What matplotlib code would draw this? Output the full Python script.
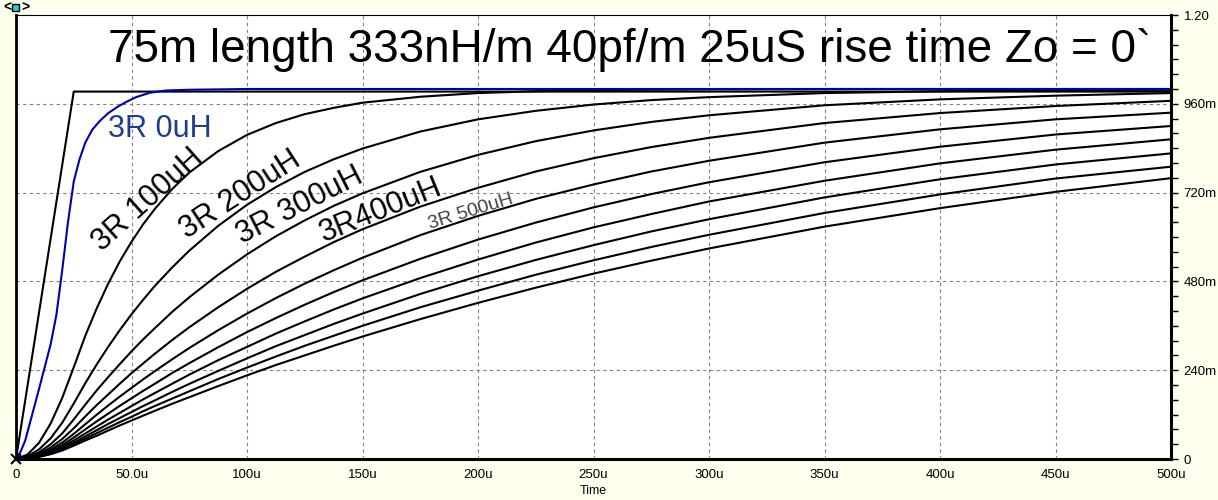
import numpy as np
import matplotlib
matplotlib.use("Agg")
import matplotlib.pyplot as plt
from matplotlib.ticker import MultipleLocator, FixedLocator

plt.rcParams['font.family'] = ['Liberation Sans', 'DejaVu Sans']

# time axis in microseconds, values in volts
t_us = [0, 5, 10, 15, 20, 25, 30, 35, 40, 45, 50, 55, 60, 67.5, 75, 87.5, 100, 112.5, 125, 137.5,
        150, 175, 200, 225, 250, 275, 300, 350, 400, 450, 500]

v_100uH = [0, .012, .044, .096, .165, .248, .333, .408, .475, .535, .587, .634, .675, .729, .774, .832,
           .876, .908, .932, .949, .963, .979, .989, .994, .997, .998, .999, 1.0, 1.0, 1.0, 1.0]
v_200uH = [0, .007, .026, .056, .098, .150, .205, .256, .304, .349, .391, .430, .467, .517, .563, .630,
           .687, .735, .776, .810, .839, .885, .918, .941, .958, .970, .978, .989, .994, .997, .998]
v_300uH = [0, .005, .018, .040, .069, .107, .147, .186, .222, .257, .291, .323, .353, .397, .437, .498,
           .553, .602, .645, .684, .718, .776, .822, .859, .888, .911, .929, .956, .972, .982, .989]
v_400uH = [0, .004, .014, .031, .054, .083, .115, .146, .175, .204, .232, .258, .284, .321, .356, .410,
           .460, .506, .547, .586, .621, .682, .733, .777, .813, .843, .868, .908, .935, .954, .968]
v_500uH = [0, .003, .011, .025, .044, .068, .094, .120, .145, .169, .192, .215, .237, .269, .300, .348,
           .393, .435, .474, .510, .544, .605, .657, .703, .742, .777, .806, .855, .891, .918, .936]
v_600uH = [0, .002, .009, .021, .037, .058, .080, .102, .123, .144, .164, .184, .203, .232, .259, .302,
           .343, .381, .417, .451, .483, .541, .593, .639, .680, .716, .748, .802, .844, .877, .900]
v_700uH = [0, .002, .008, .018, .032, .050, .069, .088, .107, .125, .143, .161, .178, .203, .228, .267,
           .303, .339, .372, .404, .434, .489, .539, .585, .626, .662, .696, .752, .799, .836, .864]
v_800uH = [0, .002, .007, .016, .028, .044, .061, .078, .095, .111, .127, .143, .158, .181, .203, .238,
           .272, .305, .335, .365, .393, .446, .494, .538, .578, .615, .648, .707, .756, .796, .826]
v_900uH = [0, .002, .006, .014, .025, .040, .055, .070, .085, .100, .114, .129, .143, .163, .183, .216,
           .247, .277, .306, .333, .360, .410, .455, .498, .537, .573, .606, .665, .715, .758, .790]
v_1000uH = [0, .002, .006, .013, .023, .036, .050, .063, .077, .091, .104, .117, .130, .149, .167, .197,
            .226, .254, .280, .306, .331, .378, .422, .463, .501, .536, .569, .628, .678, .722, .759]

# 0uH trace (blue) sampled more densely
t_0uH = [0, 2, 4, 7, 10, 12.5, 15, 17.5, 20, 22.5, 25, 27.5, 30, 33, 36.5, 40, 44, 48, 52, 58, 65, 75, 100, 500]
v_0uH = [0, 0.02, 0.05, 0.12, 0.19, 0.25, 0.31, 0.39, 0.51, 0.64, 0.75, 0.81, 0.855, 0.89, 0.915, 0.935,
         0.952, 0.966, 0.978, 0.99, 0.996, 0.998, 1.0, 1.0]

# source ramp, 25us rise
t_ramp = [0, 25, 500]
v_ramp = [0, 0.993, 0.993]

x_ticks = [0, 50, 100, 150, 200, 250, 300, 350, 400, 450, 500]
x_labels = ["0", "50.0u", "100u", "150u", "200u", "250u", "300u", "350u", "400u", "450u", "500u"]
y_ticks = [0, 0.24, 0.48, 0.72, 0.96, 1.20]
y_labels = ["0", "240m", "480m", "720m", "960m", "1.20"]

title = "75m length 333nH/m 40pf/m 25uS rise time Zo = 0`"

fig = plt.figure(figsize=(12.18, 5.0), dpi=100, facecolor="#FFFFEE")
ax = fig.add_axes([16/1218, 41/500, 1155/1218, 444/500])
ax.set_facecolor("white")

black_traces = [v_100uH, v_200uH, v_300uH, v_400uH, v_500uH, v_600uH,
                v_700uH, v_800uH, v_900uH, v_1000uH]
for v in black_traces:
    ax.plot(t_us, v, color="black", lw=1.5, solid_joinstyle="round")
ax.plot(t_ramp, v_ramp, color="black", lw=1.5)
ax.plot(t_0uH, v_0uH, color="#0000B0", lw=1.5)

ax.set_xlim(0, 500)
ax.set_ylim(0, 1.2)

# grid
for x in x_ticks[1:-1]:
    ax.axvline(x, color="#808080", lw=0.8, ls=(0, (3, 3)), zorder=0)
for y in y_ticks[1:-1]:
    ax.axhline(y, color="#808080", lw=0.8, ls=(0, (3, 3)), zorder=0)

ax.xaxis.set_major_locator(FixedLocator(x_ticks))
ax.set_xticklabels(x_labels, fontsize=9.5)
ax.tick_params(axis="x", length=0, pad=7)

ax.yaxis.tick_right()
ax.yaxis.set_major_locator(FixedLocator(y_ticks))
ax.yaxis.set_minor_locator(MultipleLocator(0.04))
ax.set_yticklabels(y_labels, fontsize=9.5)
ax.tick_params(axis="y", which="both", direction="out", length=5, width=1, pad=4)

ax.set_xlabel("Time", fontsize=9, labelpad=3)

ax.spines["left"].set_linewidth(2.0)
ax.spines["bottom"].set_linewidth(2.2)
ax.spines["right"].set_linewidth(2.2)
ax.spines["top"].set_linewidth(0.8)

# origin cross
ax.plot([0], [0], marker="x", color="black", ms=7, mew=1.5, clip_on=False)

# curve labels
ax.text(39.8, 0.87, "3R 0uH", color="#1C3C8C", fontsize=22, ha="left", va="baseline")
ax.text(57, 0.70, "3R 100uH", fontsize=22, rotation=42, rotation_mode="anchor", ha="center", va="center")
ax.text(97, 0.713, "3R 200uH", fontsize=22, rotation=33, rotation_mode="anchor", ha="center", va="center")
ax.text(123, 0.686, "3R 300uH", fontsize=22, rotation=27, rotation_mode="anchor", ha="center", va="center")
ax.text(158, 0.673, "3R400uH", fontsize=22, rotation=22, rotation_mode="anchor", ha="center", va="center")
ax.text(197, 0.668, "3R 500uH", fontsize=14, color="#404040", rotation=17, rotation_mode="anchor", ha="center", va="center")

fig.text(108/1218, 1 - 62/500, title, fontsize=33, ha="left", va="baseline")

# cursor marker top-left: "<" [cyan box] ">"
fig.text(3/1218, 1 - 12/500, "<", fontsize=10, fontweight="bold", ha="left", va="baseline")
fig.text(21/1218, 1 - 12/500, ">", fontsize=10, fontweight="bold", ha="left", va="baseline")
fig.patches.append(plt.Rectangle((12/1218, 1 - 11/500), 7/1218, 7/500, transform=fig.transFigure,
                                 facecolor="#20D0E0", edgecolor="black", lw=1.0))

fig.savefig("out.png", dpi=100, facecolor=fig.get_facecolor())
